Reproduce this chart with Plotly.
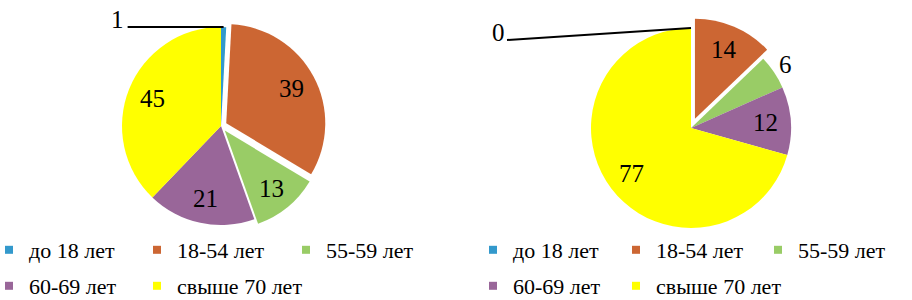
import math
import plotly.graph_objects as go

categories = ["до 18 лет", "18-54 лет", "55-59 лет", "60-69 лет", "свыше 70 лет"]
left_values = [1, 39, 13, 21, 45]
right_values = [0, 14, 6, 12, 77]
colors = ["#3399CC", "#CC6633", "#99CC66", "#996699", "#FFFF00"]
left_pull = [0, 0.06, 0.06, 0, 0]
right_pull = [0, 0.1, 0, 0, 0]
# label placement per slice: "leader" (label with leader line), "inside", "outside"
left_labelpos = ["leader", "inside", "inside", "inside", "inside"]
right_labelpos = ["leader", "inside", "outside", "inside", "inside"]

W, H = 912, 300
FONT = "Liberation Serif"
INSIDE_FRAC = 0.75
OUTSIDE_FRAC = 1.14

# legend grid (entry index -> row, column) shared by both legends
legend_cells = [(0, 0), (0, 1), (0, 2), (1, 0), (1, 1)]


def domain(cx, cy, r, pull):
    half = r * (1 + max(pull))
    return dict(x=[(cx - half) / W, (cx + half) / W],
                y=[1 - (cy + half) / H, 1 - (cy - half) / H])


pies = [
    dict(values=left_values, pull=left_pull, labelpos=left_labelpos, cx=221, cy=126, r=99,
         tail=(-96, 0), label=(-106, -8),
         legend_cols=[25, 173, 322], legend_rows=[250, 286]),
    dict(values=right_values, pull=right_pull, labelpos=right_labelpos, cx=691, cy=128, r=100,
         tail=(-184, 12), label=(-193, 4),
         legend_cols=[509, 652, 794], legend_rows=[250, 286]),
]

fig = go.Figure()
annotations = []
shapes = []
legends = {}
leg_common = dict(orientation="h", xanchor="left", yanchor="middle",
                  font=dict(family=FONT, size=22, color="black"),
                  bgcolor="rgba(0,0,0,0)", borderwidth=0)
leg_n = 0
for p in pies:
    fig.add_trace(go.Pie(
        labels=categories, values=p["values"], pull=p["pull"],
        marker=dict(colors=colors, line=dict(width=0)),
        sort=False, direction="clockwise", rotation=0,
        textinfo="none",
        showlegend=False, hoverinfo="label+value",
        domain=domain(p["cx"], p["cy"], p["r"], p["pull"]),
    ))
    total = sum(p["values"])
    start = 0.0
    for v, pull, pos in zip(p["values"], p["pull"], p["labelpos"]):
        mid = (start + v / 2) / total * 2 * math.pi
        start += v
        sx, sy = math.sin(mid), -math.cos(mid)
        if pos == "leader":
            hx = p["cx"] + p["r"] * sx
            hy = p["cy"] + p["r"] * sy
            tx, ty = hx + p["tail"][0], hy + p["tail"][1]
            shapes.append(dict(type="line", xref="paper", yref="paper",
                               x0=hx / W, y0=1 - hy / H, x1=tx / W, y1=1 - ty / H,
                               line=dict(color="black", width=2)))
            lx, ly = hx + p["label"][0], hy + p["label"][1]
        else:
            frac = INSIDE_FRAC if pos == "inside" else OUTSIDE_FRAC
            rr = p["r"] * (frac + pull)
            lx, ly = p["cx"] + rr * sx, p["cy"] + rr * sy
        annotations.append(dict(xref="paper", yref="paper", xanchor="center", yanchor="middle",
                                x=lx / W, y=1 - ly / H,
                                text=str(v), showarrow=False,
                                font=dict(family=FONT, size=25, color="black")))

    # legend: one legend box per entry, arranged in a grid under the pie
    for i, (row, col) in enumerate(legend_cells):
        leg_n += 1
        name = "legend" if leg_n == 1 else f"legend{leg_n}"
        fig.add_trace(go.Scatter(
            x=[None], y=[None], mode="markers", name=categories[i],
            marker=dict(symbol="square", size=8, color=colors[i]),
            legend=name, showlegend=True, hoverinfo="skip",
        ))
        legends[name] = dict(**leg_common,
                             x=(p["legend_cols"][col] - 36) / W,
                             y=1 - p["legend_rows"][row] / H)

fig.update_layout(
    width=W, height=H,
    margin=dict(l=0, r=0, t=0, b=0, autoexpand=False),
    paper_bgcolor="white", plot_bgcolor="rgba(0,0,0,0)",
    xaxis=dict(visible=False), yaxis=dict(visible=False),
    shapes=shapes, annotations=annotations,
    **legends,
)

fig.write_html("out.html")
